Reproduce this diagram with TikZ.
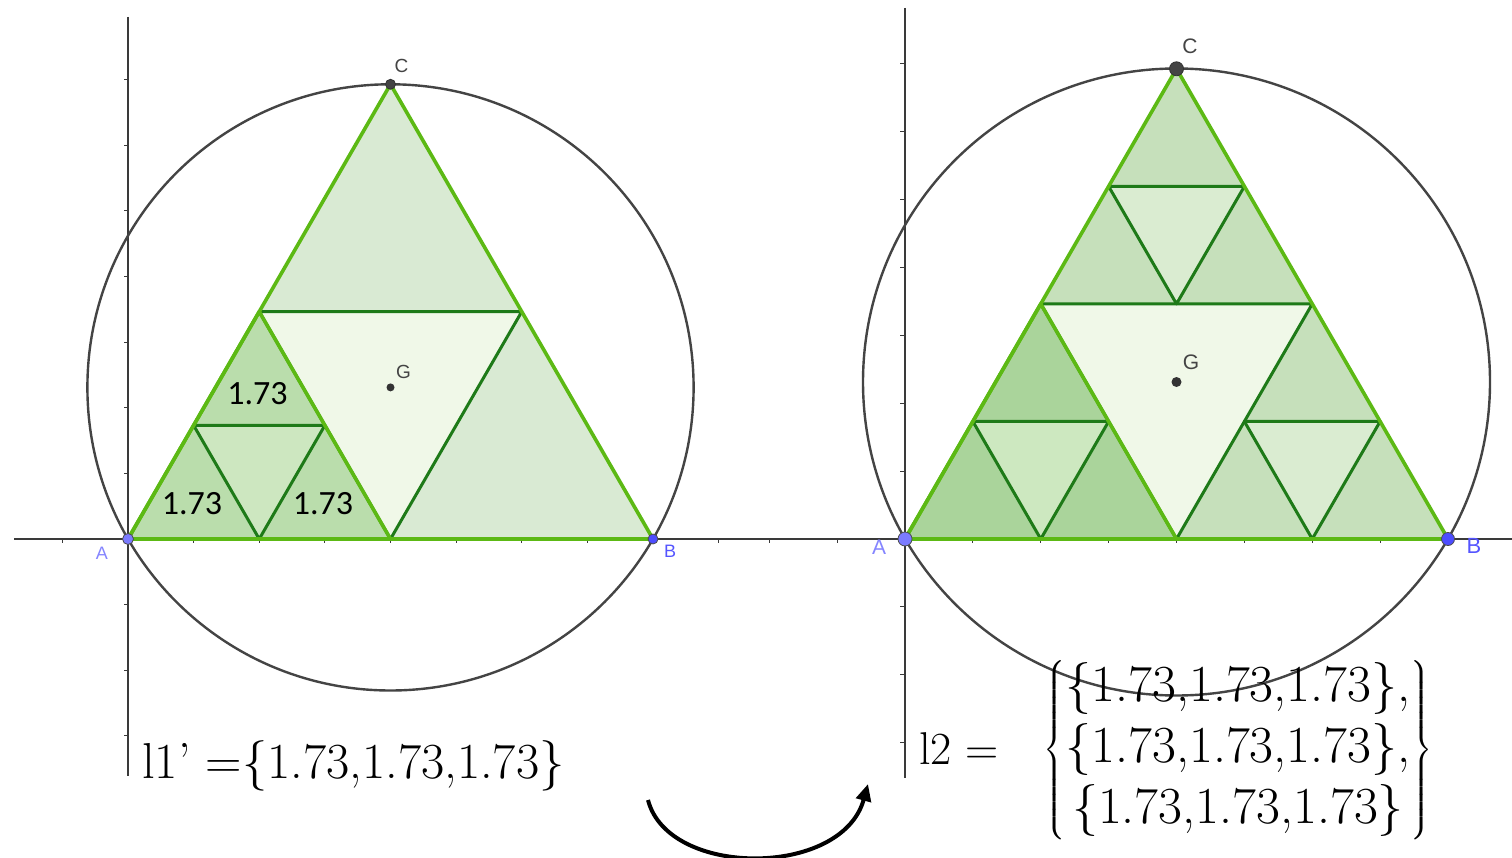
\documentclass[tikz,border=0pt]{standalone}
\usepackage{amsmath}
\usepackage{fontspec}
\usetikzlibrary{calc,arrows.meta}
\newfontfamily\lblfont{Liberation Sans}
\newfontfamily\calfont{Carlito}
\definecolor{brightg}{HTML}{5CB914}
\definecolor{darkg}{HTML}{1E7A18}
\definecolor{fbig}{HTML}{D9EAD3}
\definecolor{fcentral}{HTML}{F0F8E8}
\definecolor{fsubL}{HTML}{BADDAC}
\definecolor{finL}{HTML}{CDE7C0}
\definecolor{fcornBL}{HTML}{AAD49B}
\definecolor{finBL}{HTML}{CDE8C0}
\definecolor{fcorn}{HTML}{C6E0BB}
\definecolor{fin}{HTML}{DAECD1}
\definecolor{axisgrey}{HTML}{3A3A3A}
\definecolor{circgrey}{HTML}{444444}
\definecolor{ptA}{HTML}{7B7BFF}
\definecolor{ptB}{HTML}{4D4DFF}
\definecolor{lblA}{HTML}{8585FF}
\definecolor{lblB}{HTML}{5555FF}
\tikzset{
  axisline/.style={draw=axisgrey, line width=1.2pt},
  tickline/.style={draw=axisgrey, line width=1pt},
  circline/.style={draw=circgrey, line width=2.4pt},
  outerg/.style={draw=brightg, line width=3.6pt, line join=round},
  innerg/.style={draw=darkg, line width=3pt, line join=round},
  greypt/.style={circle, fill=circgrey, draw=black!80, line width=0.8pt, inner sep=0pt},
  ptlabel/.style={font=\lblfont\fontsize{19}{19}\selectfont, text=circgrey, inner sep=0pt},
  numlbl/.style={font=\calfont\fontsize{34}{34}\selectfont, inner sep=0pt},
}
\begin{document}
\begin{tikzpicture}[x=1pt,y=-1pt]
\useasboundingbox (0,0) rectangle (1512,858);
\fill[white] (0,0) rectangle (1512,858);

% ---------------- axes ----------------
\draw[axisline] (14,539) -- (753,539);
\draw[axisline] (753,539) -- (1512,539);
\draw[axisline] (128,17) -- (128,776);
\draw[axisline] (905,8) -- (905,778);
\foreach \k in {-3,-2,-1,1,2,3,4,5,6,7} {
  \draw[tickline] (124,{539-\k*65.625}) -- (128,{539-\k*65.625});
  \draw[tickline] (900,{539-\k*67.875}) -- (905,{539-\k*67.875});
}
\foreach \k in {-1,1,2,3,4,5,6,7,9} {
  \draw[tickline] ({128+\k*65.625},539) -- ({128+\k*65.625},543);
}
\foreach \k in {-2,-1,1,2,3,4,5,6,7} {
  \draw[tickline] ({905+\k*67.875},539) -- ({905+\k*67.875},543);
}

% ---------------- left figure ----------------
\coordinate (LA) at (128,539);
\coordinate (LB) at (653,539);
\coordinate (LC) at (390.5,84.3);
\coordinate (LG) at (390.5,387.4);
\coordinate (LmAB) at ($(LA)!0.5!(LB)$);
\coordinate (LmAC) at ($(LA)!0.5!(LC)$);
\coordinate (LmBC) at ($(LB)!0.5!(LC)$);
\coordinate (La1) at ($(LA)!0.5!(LmAB)$);
\coordinate (La2) at ($(LA)!0.5!(LmAC)$);
\coordinate (La3) at ($(LmAB)!0.5!(LmAC)$);

\draw[circline] (LG) circle (303.1);
\fill[fbig] (LA) -- (LB) -- (LC) -- cycle;
\fill[fcentral] (LmAB) -- (LmAC) -- (LmBC) -- cycle;
\fill[fsubL] (LA) -- (LmAB) -- (LmAC) -- cycle;
\fill[finL] (La1) -- (La2) -- (La3) -- cycle;
\draw[innerg] (LmAB) -- (LmAC) -- (LmBC) -- cycle;
\draw[innerg] (La1) -- (La2) -- (La3) -- cycle;
\draw[outerg] (LA) -- (LmAB) -- (LmAC) -- cycle;
\draw[outerg] (LA) -- (LB) -- (LC) -- cycle;

\node[numlbl] (n1) at (257.5,394) {1.73};
\node[numlbl] (n2) at (192,504) {1.73};
\node[numlbl] (n3) at (323,504) {1.73};

\node[greypt, minimum size=10pt] (LCpt) at (LC) {};
\node[circle, fill=black!80, inner sep=0pt, minimum size=8pt] (LGpt) at (LG) {};
\node[circle, fill=ptA, draw=black!70, line width=0.8pt, inner sep=0pt, minimum size=11pt] (LApt) at (LA) {};
\node[circle, fill=ptB, draw=black!70, line width=0.8pt, inner sep=0pt, minimum size=10pt] (LBpt) at (LB) {};
\node[ptlabel] (LClbl) at (401.5,66) {C};
\node[ptlabel] (LGlbl) at (403.5,372) {G};
\node[ptlabel, text=lblA, font=\lblfont\fontsize{18}{18}\selectfont] (LAlbl) at (102,553) {A};
\node[ptlabel, text=lblB, font=\lblfont\fontsize{18}{18}\selectfont] (LBlbl) at (670,551) {B};

% ---------------- right figure ----------------
\coordinate (RA) at (905,539);
\coordinate (RB) at (1448,539);
\coordinate (RC) at (1176.5,68.8);
\coordinate (RG) at (1176.5,382);
\coordinate (RmAB) at ($(RA)!0.5!(RB)$);
\coordinate (RmAC) at ($(RA)!0.5!(RC)$);
\coordinate (RmBC) at ($(RB)!0.5!(RC)$);
% bottom-left sub-triangle inner
\coordinate (Rb1) at ($(RA)!0.5!(RmAB)$);
\coordinate (Rb2) at ($(RA)!0.5!(RmAC)$);
\coordinate (Rb3) at ($(RmAB)!0.5!(RmAC)$);
% bottom-right sub-triangle inner
\coordinate (Rr1) at ($(RB)!0.5!(RmAB)$);
\coordinate (Rr2) at ($(RB)!0.5!(RmBC)$);
\coordinate (Rr3) at ($(RmAB)!0.5!(RmBC)$);
% top sub-triangle inner
\coordinate (Rt1) at ($(RC)!0.5!(RmAC)$);
\coordinate (Rt2) at ($(RC)!0.5!(RmBC)$);
\coordinate (Rt3) at ($(RmAC)!0.5!(RmBC)$);

\draw[circline] (RG) circle (313.5);
\fill[fcentral] (RmAB) -- (RmAC) -- (RmBC) -- cycle;
\fill[fcornBL] (RA) -- (RmAB) -- (RmAC) -- cycle;
\fill[finBL] (Rb1) -- (Rb2) -- (Rb3) -- cycle;
\fill[fcorn] (RmAB) -- (RB) -- (RmBC) -- cycle;
\fill[fin] (Rr1) -- (Rr2) -- (Rr3) -- cycle;
\fill[fcorn] (RmAC) -- (RmBC) -- (RC) -- cycle;
\fill[fin] (Rt1) -- (Rt2) -- (Rt3) -- cycle;
\draw[innerg] (RmAB) -- (RmAC) -- (RmBC) -- cycle;
\draw[innerg] (Rb1) -- (Rb2) -- (Rb3) -- cycle;
\draw[innerg] (Rr1) -- (Rr2) -- (Rr3) -- cycle;
\draw[innerg] (Rt1) -- (Rt2) -- (Rt3) -- cycle;
\draw[outerg] (RA) -- (RmAB) -- (RmAC) -- cycle;
\draw[outerg] (RA) -- (RB) -- (RC) -- cycle;

\node[greypt, minimum size=14pt] (RCpt) at (RC) {};
\node[circle, fill=black!80, inner sep=0pt, minimum size=10pt] (RGpt) at (RG) {};
\node[circle, fill=ptA, draw=black!70, line width=0.8pt, inner sep=0pt, minimum size=14pt] (RApt) at (RA) {};
\node[circle, fill=ptB, draw=black!70, line width=0.8pt, inner sep=0pt, minimum size=13pt] (RBpt) at (RB) {};
\node[ptlabel, font=\lblfont\fontsize{21}{21}\selectfont] (RClbl) at (1190,46) {C};
\node[ptlabel, font=\lblfont\fontsize{21}{21}\selectfont] (RGlbl) at (1191,362) {G};
\node[ptlabel, text=lblA, font=\lblfont\fontsize{21}{21}\selectfont] (RAlbl) at (879,547) {A};
\node[ptlabel, text=lblB, font=\lblfont\fontsize{22}{22}\selectfont] (RBlbl) at (1474,546) {B};

% ---------------- formulas ----------------
\node[anchor=base west, inner sep=0pt, font=\fontsize{50.5}{60}\selectfont] (l1) at (142,778)
  {l1’ =\{1.73,1.73,1.73\}};
\node[anchor=base west, inner sep=0pt, font=\fontsize{46}{52}\selectfont] (l2) at (919,764) {l2 =};
\node[inner sep=0pt, font=\fontsize{52}{61}\selectfont] (l2set) at (1238,750)
  {$\left\{\begin{matrix}
    \text{\{1.73,1.73,1.73\},}\\
    \text{\{1.73,1.73,1.73\},}\\
    \text{\{1.73,1.73,1.73\}}
  \end{matrix}\right\}$};

% ---------------- arrow ----------------
\coordinate (arS) at (648,800);
\coordinate (arE) at (868,784);
\draw[line width=4pt, -{Triangle[length=17pt,width=15pt]}] (arS) .. controls (668,878) and (842,878) .. (arE);
\end{tikzpicture}
\end{document}
